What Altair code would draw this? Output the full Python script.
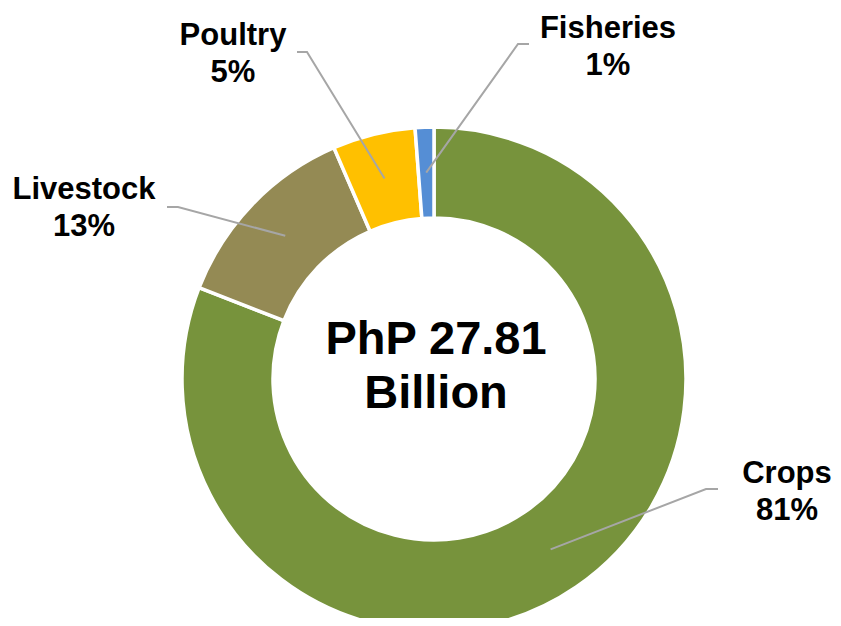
import altair as alt
import pandas as pd
import numpy as np

# ---- data ----
categories = ["Crops", "Livestock", "Poultry", "Fisheries"]
shares = [80.9, 12.6, 5.3, 1.2]
pct_labels = ["81%", "13%", "5%", "1%"]
center_lines = ["PhP 27.81", "Billion"]

# ---- style / layout ----
colors = ["#77933C", "#948A54", "#FFC000", "#558ED5"]
W, H = 825, 610
CX, CY = 426, 371
R_OUT, R_IN = 252, 161
label_pos = {"Crops": (779, 475), "Livestock": (76, 191),
             "Poultry": (225, 37), "Fisheries": (600, 30)}
elbows = {"Crops": [(710, 481), (698, 481)],
          "Livestock": [(159, 199), (170, 199)],
          "Poultry": [(289, 44), (299, 44)],
          "Fisheries": [(521, 36), (510, 36)]}

df = pd.DataFrame({"cat": categories, "value": shares,
                   "ord": list(range(len(categories)))})

# leader lines: inner end at slice mid-angle, mid-ring radius
total = sum(shares)
cum = np.cumsum([0] + shares)
r_mid = (R_IN + R_OUT) / 2
rows = []
for i, c in enumerate(categories):
    a = (cum[i] + shares[i] / 2) / total * 2 * np.pi
    pts = elbows[c] + [(CX + r_mid * np.sin(a), CY - r_mid * np.cos(a))]
    for k, (px, py) in enumerate(pts):
        rows.append({"cat": c, "k": k, "px": px, "py": py})
lines_df = pd.DataFrame(rows)

lab_df = pd.DataFrame({"cat": categories,
                       "px": [label_pos[c][0] for c in categories],
                       "py": [label_pos[c][1] for c in categories],
                       "txt": [f"{c}\n{p}" for c, p in zip(categories, pct_labels)]})

xs = alt.Scale(domain=[0, W], range=[0, W], nice=False, zero=False)
ys = alt.Scale(domain=[0, H], range=[0, H], nice=False, zero=False)

arc = alt.Chart(df).mark_arc(innerRadius=R_IN, outerRadius=R_OUT,
                             stroke="white", strokeWidth=3.5).encode(
    theta=alt.Theta("value:Q", stack=True),
    color=alt.Color("cat:N", scale=alt.Scale(domain=categories, range=colors), legend=None),
    order=alt.Order("ord:Q", sort="ascending"),
    x=alt.value(CX), y=alt.value(CY),
)

leaders = alt.Chart(lines_df).mark_line(color="#A6A6A6", strokeWidth=2).encode(
    x=alt.X("px:Q", scale=xs, axis=None),
    y=alt.Y("py:Q", scale=ys, axis=None),
    detail="cat:N",
    order="k:Q",
)

labels = alt.Chart(lab_df).mark_text(
    lineBreak="\n", fontSize=31, fontWeight="bold", font="Liberation Sans",
    align="center", baseline="alphabetic", lineHeight=37, color="black").encode(
    x=alt.X("px:Q", scale=xs, axis=None),
    y=alt.Y("py:Q", scale=ys, axis=None),
    text="txt:N",
)

center = alt.Chart(pd.DataFrame({"t": ["\n".join(center_lines)]})).mark_text(
    lineBreak="\n", fontSize=47, fontWeight="bold", font="Liberation Sans",
    align="center", baseline="alphabetic", lineHeight=54, color="black").encode(
    text="t:N", x=alt.value(428), y=alt.value(346),
)

chart = alt.layer(arc, leaders, labels, center).properties(
    width=W, height=H, padding=0,
    autosize=alt.AutoSizeParams(type="none"),
).configure_view(stroke=None)

chart.save("out.html", embed_options={"renderer": "svg", "actions": False})
